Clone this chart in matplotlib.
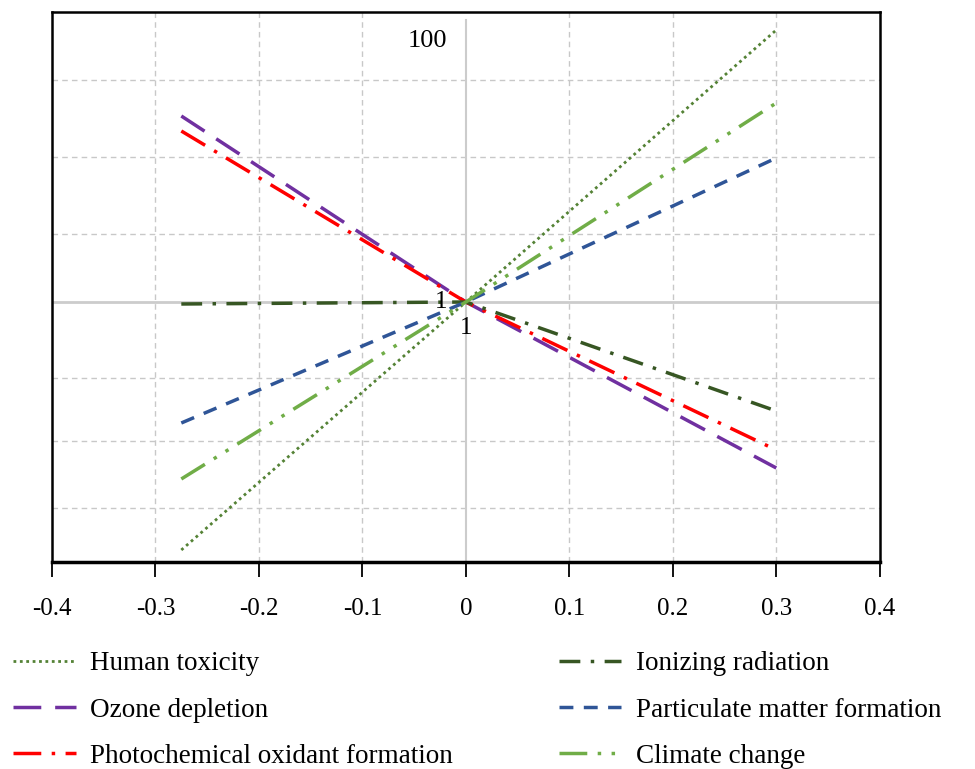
import numpy as np
import matplotlib
matplotlib.use("Agg")
import matplotlib.pyplot as plt

plt.rcParams["font.family"] = ["Liberation Serif", "DejaVu Serif"]
plt.rcParams["axes.unicode_minus"] = False

# data: relative change of parameter (x) vs relative change of indicator (y)
x_pts = [-0.275, 0.0, 0.3]
human_toxicity = [-0.248, 0.0, 0.272]
ozone_depletion = [0.186, 0.0, -0.166]
photochemical = [0.171, 0.0, -0.148]
ionizing = [-0.002, 0.0, -0.109]
particulate = [-0.121, 0.0, 0.144]
climate_change = [-0.177, 0.0, 0.199]

x_ticks = [-0.4, -0.3, -0.2, -0.1, 0, 0.1, 0.2, 0.3, 0.4]
x_labels = ["-0.4", "-0.3", "-0.2", "-0.1", "0", "0.1", "0.2", "0.3", "0.4"]


def main():
    fig = plt.figure(figsize=(9.75, 7.69), dpi=100)
    ax = fig.add_axes([0.0533, 0.2692, 0.849, 0.7152])

    # grid
    for gx in [-0.3, -0.2, -0.1, 0.1, 0.2, 0.3]:
        ax.axvline(gx, color="#c8c8c8", lw=1, ls=(0, (4, 3)), zorder=0)
    for gy in [0.222, 0.145, 0.068, -0.076, -0.139, -0.206]:
        ax.axhline(gy, color="#c8c8c8", lw=1, ls=(0, (4, 3)), zorder=0)
    ax.axvline(0, ymax=0.985, color="#cccccc", lw=1.5, zorder=0)
    ax.axhline(0, color="#cccccc", lw=2, zorder=0)

    # lines
    ax.plot(x_pts, human_toxicity, color="#548235", lw=2, ls=(0, (1, 1.3)),
            label="Human toxicity")
    ax.plot(x_pts, ozone_depletion, color="#7030a0", lw=2.5, ls=(0, (8, 4)),
            label="Ozone depletion")
    ax.plot(x_pts, photochemical, color="#ff0000", lw=2.5, ls=(0, (8, 3, 1, 3)),
            label="Photochemical oxidant formation")
    ax.plot(x_pts, ionizing, color="#375623", lw=2.5, ls=(0, (6, 3, 1, 3)),
            label="Ionizing radiation")
    ax.plot(x_pts, particulate, color="#2f5597", lw=2.5, ls=(0, (4, 3)),
            label="Particulate matter formation")
    ax.plot(x_pts, climate_change, color="#70ad47", lw=2.5, ls=(0, (8, 3, 1, 3, 1, 3)),
            label="Climate change")

    ax.set_xlim(-0.4, 0.4)
    ax.set_ylim(-0.26, 0.29)
    ax.set_xticks(x_ticks)
    ax.set_xticklabels(x_labels)
    ax.set_yticks([])
    ax.tick_params(axis="x", direction="out", length=11, width=1.3, pad=15, labelsize=18)

    for s in ax.spines.values():
        s.set_linewidth(1.8)
        s.set_color("black")
    ax.spines["bottom"].set_linewidth(2.5)

    # axis labels at the crossing
    ax.text(-0.018, 0.261, "100", ha="right", va="center", fontsize=19)
    ax.text(-0.024, 0.0, "1", ha="center", va="center", fontsize=18)
    ax.text(0.0, -0.026, "1", ha="center", va="center", fontsize=18)

    fig.legend(loc="upper left", bbox_to_anchor=(0.0025, 0.167), ncol=2,
               frameon=False, fontsize=19.5, handlelength=2.3, handletextpad=0.55,
               columnspacing=3.9, labelspacing=0.78, borderaxespad=0)

    fig.savefig("out.png", dpi=100)


if __name__ == "__main__":
    main()
